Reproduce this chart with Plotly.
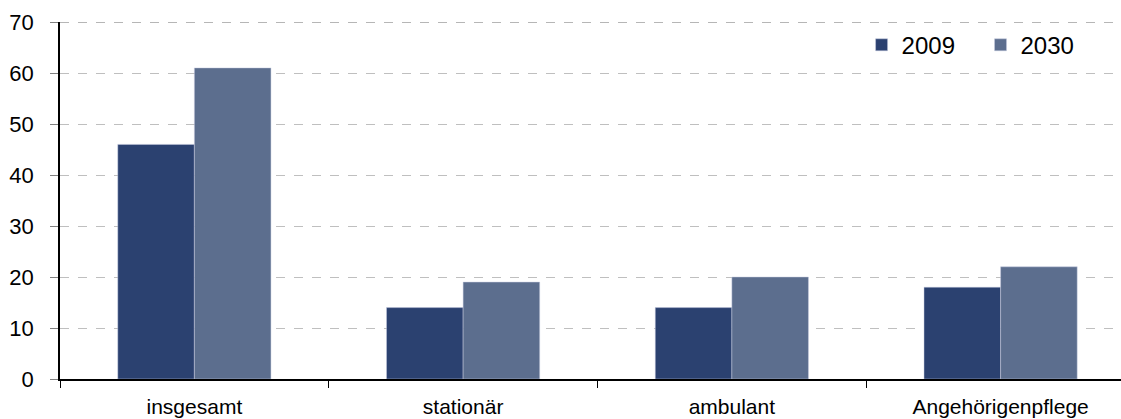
import plotly.graph_objects as go

categories = ["insgesamt", "stationär", "ambulant", "Angehörigenpflege"]
series_names = ["2009", "2030"]
values_2009 = [46, 14, 14, 18]
values_2030 = [61, 19, 20, 22]
colors = ["#2B4170", "#5C6E8E"]
y_ticks = [0, 10, 20, 30, 40, 50, 60, 70]

legend_ids = ["legend", "legend2"]
fig = go.Figure()
for name, vals, col, lg in zip(series_names, [values_2009, values_2030], colors, legend_ids):
    fig.add_trace(go.Bar(
        x=categories, y=vals, name=name, legend=lg,
        marker=dict(color=col, line=dict(color="rgba(200,205,225,0.6)", width=0.8)),
    ))

fig.add_shape(type="line", xref="paper", yref="y", x0=0, x1=1, y0=70, y1=70,
              line=dict(color="#6F6F6F", width=1.2, dash="dash"), layer="above")

legend_common = dict(orientation="h", xanchor="left", y=0.935, yanchor="middle",
                     font=dict(size=24), bgcolor="rgba(0,0,0,0)", itemwidth=30)

fig.update_layout(
    width=1121, height=419,
    margin=dict(l=60, r=0, t=22, b=40),
    paper_bgcolor="white", plot_bgcolor="white",
    barmode="group", bargap=0.43, bargroupgap=0,
    font=dict(family="Liberation Sans, Arial, sans-serif", size=22, color="#000000"),
    showlegend=True,
    legend=dict(x=0.7555, **legend_common),
    legend2=dict(x=0.8676, **legend_common),
    xaxis=dict(
        type="category", range=[-0.5, 3.448],
        showline=True, linecolor="#000000", linewidth=1.5,
        ticks="outside", tickson="boundaries", ticklen=7, tickcolor="#000000",
        showgrid=False, ticklabelstandoff=8,
        tickfont=dict(family="Liberation Sans Narrow, Liberation Sans, Arial, sans-serif", size=21),
    ),
    yaxis=dict(
        range=[0, 70], tickvals=y_ticks,
        showline=True, linecolor="#000000", linewidth=1.5,
        ticks="outside", ticklen=8, tickcolor="#808080",
        showgrid=True, gridcolor="#BFBFBF", griddash="dash", gridwidth=1,
        zeroline=False, ticklabelstandoff=12,
    ),
)

fig.write_html("out.html", config={"displayModeBar": False},
               post_script="document.body.style.margin='0px';document.body.style.overflow='hidden';")
